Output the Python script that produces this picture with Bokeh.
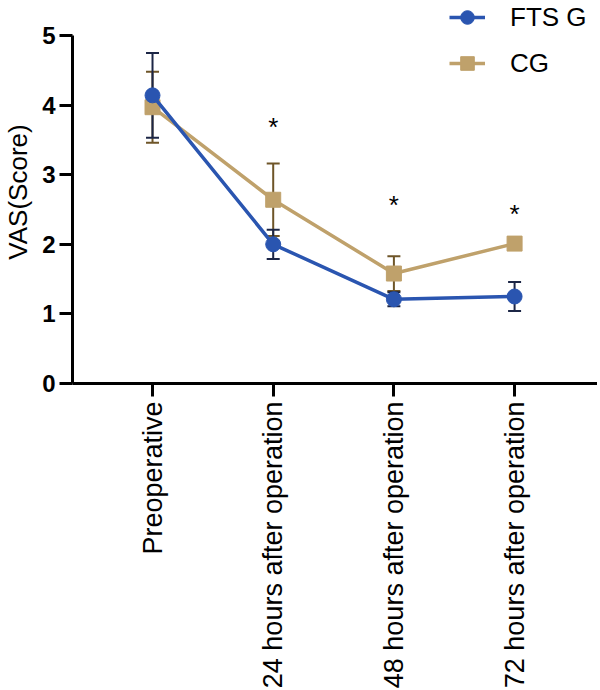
import numpy as np
from bokeh.plotting import figure
from bokeh.models import (ColumnDataSource, Whisker, TeeHead, Legend, LegendItem,
                          FixedTicker, Range1d)
from bokeh.embed import file_html
from bokeh.resources import INLINE
from bokeh.core.properties import value

# ---- data ----
timepoints = ["Preoperative", "24 hours after operation",
              "48 hours after operation", "72 hours after operation"]
fts_mean = [4.14, 2.00, 1.21, 1.25]
fts_sd = [0.61, 0.21, 0.10, 0.21]
cg_mean = [3.97, 2.64, 1.58, 2.01]
cg_sd = [0.51, 0.52, 0.25, 0.07]
star_idx = [1, 2, 3]
star_y = [3.69, 2.56, 2.44]
y_ticks = [0, 1, 2, 3, 4, 5]

FONT = "Liberation Sans"
FTS_COLOR = "#2a55b0"
FTS_ERR = "#1c2646"
CG_COLOR = "#bfa16b"
CG_ERR = "#6e5528"

xs = list(range(len(timepoints)))

PLOT_H = 348      # pixel height of the 0..5 span
TOP_PAD = 35      # space above the 5 tick (holds the legend)
y_top = 5 * (PLOT_H + TOP_PAD) / PLOT_H

p = figure(frame_width=525, frame_height=PLOT_H + TOP_PAD, output_backend="svg",
           toolbar_location=None,
           x_range=Range1d(-0.663, 3.687), y_range=Range1d(0, y_top),
           min_border_top=0, min_border_right=0, min_border_bottom=0,
           min_border_left=64)
p.outline_line_color = None
p.grid.visible = False
p.background_fill_color = "white"

# error bars
def add_err(mean, sd, color):
    m = np.array(mean)
    s = np.array(sd)
    src = ColumnDataSource(dict(x=xs, upper=m + s, lower=m - s))
    w = Whisker(base="x", upper="upper", lower="lower", source=src,
                line_color=color, line_width=2, level="underlay",
                upper_head=TeeHead(size=13, line_color=color, line_width=2),
                lower_head=TeeHead(size=13, line_color=color, line_width=2))
    p.add_layout(w)

add_err(cg_mean, cg_sd, CG_ERR)
add_err(fts_mean, fts_sd, FTS_ERR)

cg_line = p.line(xs, cg_mean, line_color=CG_COLOR, line_width=3.5)
cg_pts = p.scatter(xs, cg_mean, marker="square", size=15, fill_color=CG_COLOR,
                   line_color=CG_COLOR)
fts_line = p.line(xs, fts_mean, line_color=FTS_COLOR, line_width=3.5)
fts_pts = p.scatter(xs, fts_mean, marker="circle", size=15, fill_color=FTS_COLOR,
                    line_color=FTS_COLOR)

p.text(x=star_idx, y=star_y, text=["*"] * len(star_idx),
       text_font=value(FONT), text_font_size="26px", text_align="center",
       text_baseline="middle", text_color="black")

# axes
for ax in (p.xaxis[0], p.yaxis[0]):
    ax.axis_line_width = 3
    ax.axis_line_color = "black"
    ax.major_tick_line_width = 3
    ax.major_tick_line_color = "black"
    ax.major_tick_out = 13
    ax.major_tick_in = 0
    ax.minor_tick_line_color = None

p.yaxis.bounds = (0, 5)

p.xaxis.ticker = FixedTicker(ticks=xs)
p.xaxis.major_label_overrides = {i: t for i, t in enumerate(timepoints)}
p.xaxis.major_label_orientation = np.pi / 2
p.xaxis.major_label_text_font = FONT
p.xaxis.major_label_text_font_size = "27px"
p.xaxis.major_label_text_color = "black"
p.xaxis.major_label_standoff = 5

p.yaxis.ticker = FixedTicker(ticks=y_ticks)
p.yaxis.major_label_text_font = FONT
p.yaxis.major_label_text_font_size = "24px"
p.yaxis.major_label_text_font_style = "bold"
p.yaxis.major_label_text_color = "black"
p.yaxis.major_label_standoff = 4
p.yaxis.axis_label = "VAS(Score)"
p.yaxis.axis_label_text_font = FONT
p.yaxis.axis_label_text_font_size = "26px"
p.yaxis.axis_label_text_font_style = "normal"
p.yaxis.axis_label_text_color = "black"
p.yaxis.axis_label_standoff = 6

legend = Legend(items=[LegendItem(label="FTS G", renderers=[fts_line, fts_pts]),
                       LegendItem(label="CG", renderers=[cg_line, cg_pts])],
                location=(377, 303), orientation="vertical",
                glyph_width=36, glyph_height=34, spacing=12, label_standoff=25,
                label_text_font=FONT, label_text_font_size="26px",
                label_text_color="black", padding=0, margin=0,
                border_line_color=None, background_fill_alpha=0)
p.add_layout(legend)

open("out.html", "w").write(file_html(p, INLINE))
